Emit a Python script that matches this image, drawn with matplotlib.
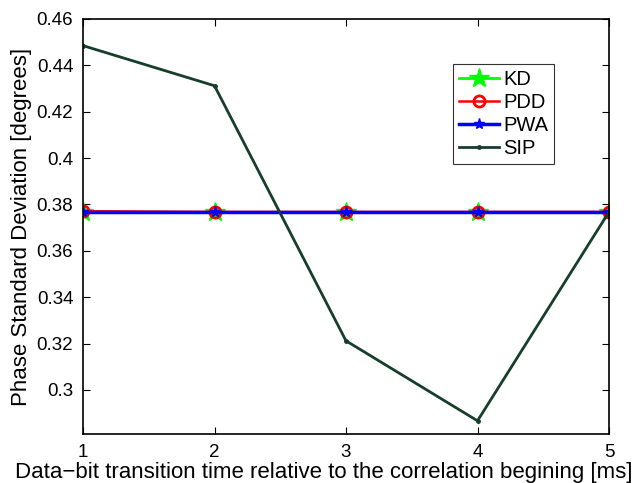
import matplotlib
matplotlib.use("Agg")
import matplotlib.pyplot as plt

plt.rcParams['font.family'] = ['Liberation Sans', 'DejaVu Sans']

t_ms = [1, 2, 3, 4, 5]
kd = [0.3768, 0.3768, 0.3768, 0.3768, 0.3768]
pdd = [0.3771, 0.3768, 0.3768, 0.3768, 0.3768]
pwa = [0.3768, 0.3768, 0.3768, 0.3768, 0.3768]
sip = [0.4485, 0.4312, 0.3212, 0.2867, 0.3768]
y_ticks = [0.3, 0.32, 0.34, 0.36, 0.38, 0.4, 0.42, 0.44, 0.46]
y_tick_labels = ['0.3', '0.32', '0.34', '0.36', '0.38', '0.4', '0.42', '0.44', '0.46']

fig = plt.figure(figsize=(6.42, 4.83), dpi=100)
ax = fig.add_axes([0.1293, 0.1014, 0.8193, 0.8593])

ax.plot(t_ms, kd, color='#00ff00', lw=2, marker='*', ms=15, mfc='#00ff00', mec='#00ff00', label='KD')
ax.plot(t_ms, pdd, color='#ff0000', lw=1.8, marker='o', ms=8, mfc='none', mec='#ff0000', mew=2, label='PDD')
ax.plot(t_ms, pwa, color='#0000ff', lw=2.5, marker='*', ms=8, mfc='#0000ff', mec='#0000ff', label='PWA')
ax.plot(t_ms, sip, color='#173d2b', lw=2, marker='.', ms=5, label='SIP')

ax.set_xlim(1, 5)
ax.set_ylim(0.281, 0.46)
ax.set_xticks(t_ms)
ax.set_xticklabels([str(v) for v in t_ms])
ax.set_yticks(y_ticks)
ax.set_yticklabels(y_tick_labels)
ax.tick_params(direction='in', top=True, right=True, labelsize=13.5, length=5, width=0.8, pad=7)
for s in ax.spines.values():
    s.set_linewidth(1.2)

ax.set_xlabel('Data\u2212bit transition time relative to the correlation begining [ms]', fontsize=16.0)
ax.xaxis.set_label_coords(0.457, -0.068, transform=ax.transAxes)
ax.xaxis.label.set_va('top')
ax.set_ylabel('Phase Standard Deviation [degrees]', fontsize=16, labelpad=3)

leg = ax.legend(loc='upper left', bbox_to_anchor=(0.703, 0.892), fontsize=14.5, frameon=True,
                fancybox=False, edgecolor='black', handlelength=2.0, handletextpad=0.2,
                borderpad=0.3, labelspacing=0.2, borderaxespad=0)
leg.get_frame().set_linewidth(0.8)

fig.savefig('out.png', dpi=100)
